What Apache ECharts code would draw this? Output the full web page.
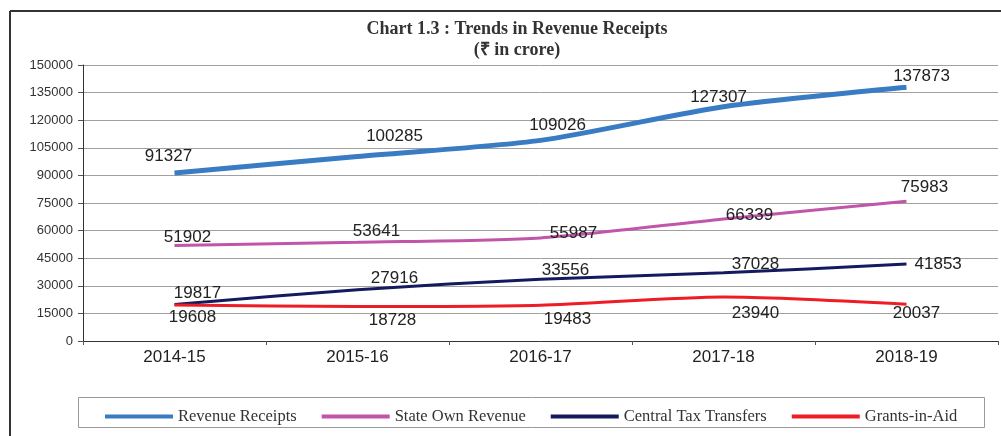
<!DOCTYPE html>
<html>
<head>
<meta charset="utf-8">
<script src="https://cdn.jsdelivr.net/npm/echarts@6/dist/echarts.min.js"></script>
<style>
  html, body { margin: 0; padding: 0; background: #fff; }
  #chart { width: 1001px; height: 436px; }
</style>
</head>
<body>
<div id="chart"></div>
<script>
// ===== data =====
const years = ['2014-15', '2015-16', '2016-17', '2017-18', '2018-19']
const revenueReceipts = [91327, 100285, 109026, 127307, 137873]
const stateOwnRevenue = [51902, 53641, 55987, 66339, 75983]
const centralTaxTransfers = [19817, 27916, 33556, 37028, 41853]
const grantsInAid = [19608, 18728, 19483, 23940, 20037]
const yTicks = [0, 15000, 30000, 45000, 60000, 75000, 90000, 105000, 120000, 135000, 150000]

// label nudges (px) so the numbers sit like in the printed chart
const rrOffsets = [[-6, 0], [37, -4], [17, 1], [-5, 7], [15, 6]]
const soOffsets = [[13, 8], [19, 6], [33, 12], [26, 13], [18, 3]]
const ctOffsets = [[23, 5], [37, 5], [25, 8], [32, 8], null]
const giOffsets = [[18, -8], [35, -7], [27, -6], [32, -4], [10, -11]]

function withOffsets(values, offsets, pos) {
  return values.map((v, i) => {
    const o = offsets[i]
    if (!o) return { value: v, label: { position: 'right', offset: [0, 0] } }
    return { value: v, label: { position: pos, offset: o } }
  })
}

const chart = echarts.init(document.getElementById('chart'))

const labelFont = { fontFamily: 'Liberation Sans, Arial, sans-serif', fontSize: 17, color: '#222' }

function makeSeries(name, values, offsets, pos, dist, color, width) {
  return {
    name: name,
    type: 'line',
    smooth: 0.25,
    color: color,
    symbol: 'circle',
    symbolSize: 0.1,
    showSymbol: true,
    lineStyle: { width: width, color: color },
    label: Object.assign({ show: true, position: pos, distance: dist }, labelFont),
    data: withOffsets(values, offsets, pos),
  }
}

chart.setOption({
  animation: false,
  title: {
    text: 'Chart 1.3 : Trends in Revenue Receipts\n(₹ in crore)',
    left: 512,
    top: 14,
    textAlign: 'center',
    textStyle: {
      fontFamily: 'Liberation Serif, Times New Roman, serif',
      fontWeight: 'bold',
      fontSize: 18,
      lineHeight: 21,
      color: '#333',
    },
  },
  grid: { left: 83, right: 3, top: 65, bottom: 95, containLabel: false },
  xAxis: {
    type: 'category',
    data: years,
    boundaryGap: true,
    axisLine: { lineStyle: { color: '#333', width: 1 } },
    axisTick: { show: true, length: 4, lineStyle: { color: '#555' } },
    axisLabel: { fontFamily: 'Liberation Sans, Arial, sans-serif', fontSize: 17, color: '#222', margin: 8 },
  },
  yAxis: {
    type: 'value',
    min: yTicks[0],
    max: yTicks[yTicks.length - 1],
    interval: yTicks[1] - yTicks[0],
    axisLine: { show: true, lineStyle: { color: '#333', width: 1 } },
    axisTick: { show: true, length: 5, lineStyle: { color: '#555' } },
    axisLabel: {
      fontFamily: 'Liberation Sans, Arial, sans-serif',
      fontSize: 13,
      color: '#333',
      margin: 10,
      formatter: (v) => String(v),
    },
    splitLine: { lineStyle: { color: '#a0a0a0', width: 1 } },
  },
  legend: {
    left: 100,
    top: 403,
    icon: 'rect',
    itemWidth: 68,
    itemHeight: 4,
    itemGap: 25,
    textStyle: { fontFamily: 'Liberation Serif, Times New Roman, serif', fontSize: 16.5, color: '#333' },
  },
  graphic: [
    { type: 'line', shape: { x1: 10, y1: 11, x2: 1001, y2: 11 }, style: { stroke: '#333', lineWidth: 2 } },
    { type: 'line', shape: { x1: 10, y1: 11, x2: 10, y2: 436 }, style: { stroke: '#333', lineWidth: 2 } },
    { type: 'rect', shape: { x: 78.5, y: 397.5, width: 906, height: 30 }, style: { fill: 'none', stroke: '#999', lineWidth: 1 } },
  ],
  series: [
    makeSeries('Revenue Receipts', revenueReceipts, rrOffsets, 'top', 8, '#3a7cc4', 5),
    makeSeries('State Own Revenue', stateOwnRevenue, soOffsets, 'top', 8, '#c055aa', 3),
    makeSeries('Central Tax Transfers', centralTaxTransfers, ctOffsets, 'top', 8, '#141a5e', 3),
    makeSeries('Grants-in-Aid', grantsInAid, giOffsets, 'bottom', 12, '#ee1c25', 3),
  ],
})
</script>
</body>
</html>
